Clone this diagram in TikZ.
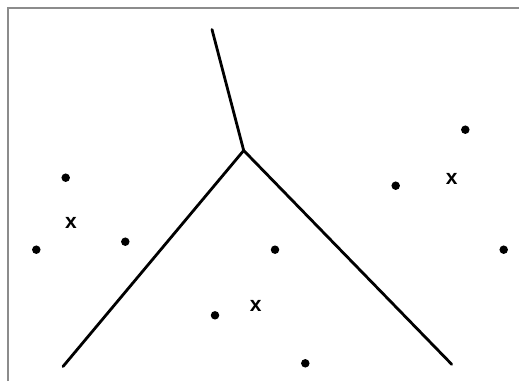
\documentclass[tikz,border=0pt]{standalone}
\usepackage{fontspec}
\setsansfont{Liberation Sans}
\begin{document}
\begin{tikzpicture}[
        x=1pt, y=-1pt,
        every node/.style={font=\sffamily\bfseries\fontsize{21}{21}\selectfont},
        edge/.style={line width=2.8pt, draw=black, line cap=round},
        pt/.style={circle, fill=black, inner sep=0pt, minimum size=8.5pt},
        centroid/.style={inner sep=0pt},
        frame/.style={draw=black!45, line width=2pt}
        ]
        
        % Page size and frame
        \useasboundingbox (0, 0) rectangle (519, 381);
        \draw[frame] (8, 381) -- (8, 8) -- (519, 8);
        
        % Region boundaries
        \coordinate (v) at (243.7, 150.5);
        \coordinate (top) at (212, 29.5);
        \coordinate (left) at (63, 366.5);
        \coordinate (right) at (451.7, 364.3);
        \draw[edge] (top) -- (v);
        \draw[edge] (v) -- (left);
        \draw[edge] (v) -- (right);
        
        % Data points
        \node[pt] (d1) at (65.7, 177.7) {};
        \node[pt] (d2) at (36.3, 249.7) {};
        \node[pt] (d3) at (125.3, 241.7) {};
        \node[pt] (d4) at (275, 249.7) {};
        \node[pt] (d5) at (215, 315.3) {};
        \node[pt] (d6) at (305.3, 363.3) {};
        \node[pt] (d7) at (395.7, 185.7) {};
        \node[pt] (d8) at (465.3, 129.7) {};
        \node[pt] (d9) at (503.7, 249.7) {};
        
        % Cluster centres
        \node[centroid] (c1) at (71, 222.5) {x};
        \node[centroid] (c2) at (255.7, 306) {x};
        \node[centroid] (c3) at (451.7, 179) {x};
        
    \end{tikzpicture}
\end{document}
